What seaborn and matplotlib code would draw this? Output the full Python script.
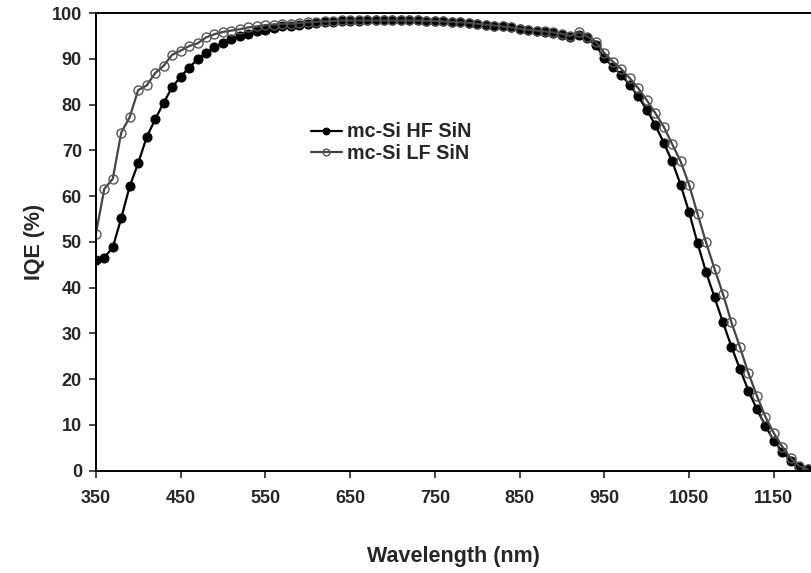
import numpy as np
import pandas as pd
import matplotlib
matplotlib.use("Agg")
import matplotlib.pyplot as plt
import seaborn as sns

# ------------------------------
#   IQE data
# ------------------------------
wavelength = [340, 350, 360, 370, 380, 390, 400, 410, 420, 430,
              440, 450, 460, 470, 480, 490, 500, 510, 520, 530,
              540, 550, 560, 570, 580, 590, 600, 610, 620, 630,
              640, 650, 660, 670, 680, 690, 700, 710, 720, 730,
              740, 750, 760, 770, 780, 790, 800, 810, 820, 830,
              840, 850, 860, 870, 880, 890, 900, 910, 920, 930,
              940, 950, 960, 970, 980, 990, 1000, 1010, 1020, 1030,
              1040, 1050, 1060, 1070, 1080, 1090, 1100, 1110, 1120, 1130,
              1140, 1150, 1160, 1170, 1180, 1190]

iqe_hf = [38.0, 46.1, 46.6, 48.8, 55.2, 62.2, 67.2, 72.9, 76.8, 80.4,
          83.8, 86.1, 88.1, 89.9, 91.4, 92.5, 93.4, 94.3, 95.0, 95.5,
          96.0, 96.4, 96.8, 97.1, 97.3, 97.5, 97.7, 97.9, 98.0, 98.1,
          98.2, 98.3, 98.3, 98.4, 98.4, 98.4, 98.4, 98.4, 98.4, 98.4,
          98.3, 98.3, 98.2, 98.1, 98.0, 97.9, 97.7, 97.5, 97.3, 97.1,
          96.9, 96.6, 96.3, 96.1, 95.9, 95.6, 95.3, 94.8, 95.3, 94.5,
          93.0, 90.2, 88.3, 86.5, 84.3, 81.8, 78.9, 75.6, 71.7, 67.6,
          62.5, 56.5, 49.7, 43.4, 37.9, 32.4, 27.1, 22.2, 17.5, 13.4,
          9.8, 6.5, 4.2, 2.2, 0.9, 0.3]

iqe_lf = [40.5, 51.7, 61.6, 63.8, 73.9, 77.3, 83.2, 84.2, 86.9, 88.5,
          90.9, 91.8, 92.8, 93.4, 94.7, 95.4, 95.9, 96.2, 96.5, 96.9,
          97.1, 97.4, 97.5, 97.7, 97.7, 97.9, 98.0, 98.1, 98.2, 98.3,
          98.4, 98.4, 98.4, 98.4, 98.4, 98.4, 98.4, 98.4, 98.4, 98.4,
          98.3, 98.3, 98.2, 98.1, 98.0, 97.9, 97.7, 97.5, 97.3, 97.1,
          96.9, 96.6, 96.4, 96.2, 96.0, 95.8, 95.5, 95.0, 95.9, 94.9,
          93.8, 91.3, 89.4, 87.8, 85.8, 83.6, 81.0, 78.2, 75.2, 71.4,
          67.6, 62.5, 56.1, 49.9, 44.1, 38.6, 32.4, 27.0, 21.3, 16.4,
          11.8, 8.2, 5.2, 2.7, 1.0, 0.3]

x_ticks = [350, 450, 550, 650, 750, 850, 950, 1050, 1150]
y_ticks = [0, 10, 20, 30, 40, 50, 60, 70, 80, 90, 100]

df = pd.DataFrame({"wavelength": wavelength, "HF": iqe_hf, "LF": iqe_lf})

sns.set_style("ticks")
plt.rcParams["font.family"] = ["Liberation Sans", "DejaVu Sans"]

fig = plt.figure(figsize=(8.12, 5.73), dpi=100)
ax = fig.add_axes([0.118, 0.1785, 0.882, 0.7985])

sns.lineplot(data=df, x="wavelength", y="HF", ax=ax, color="black",
             linewidth=1.6, marker="o", markersize=6.5,
             markerfacecolor="black", markeredgecolor="black",
             label="mc-Si HF SiN")
sns.lineplot(data=df, x="wavelength", y="LF", ax=ax, color="#444444",
             linewidth=1.6, marker="o", markersize=6.5,
             markerfacecolor="none", markeredgecolor="#555555",
             markeredgewidth=1.0, label="mc-Si LF SiN")

ax.set_xlim(350, 1195)
ax.set_ylim(0, 100)
ax.set_xticks(x_ticks)
ax.set_yticks(y_ticks)
ax.tick_params(axis="both", direction="out", length=5, width=1.2,
               labelsize=13)
ax.tick_params(axis="x", pad=9)
ax.tick_params(axis="y", pad=5)
for lbl in ax.get_xticklabels() + ax.get_yticklabels():
    lbl.set_fontweight("bold")

for side in ["left", "bottom", "top"]:
    ax.spines[side].set_linewidth(1.4)
    ax.spines[side].set_color("black")
ax.spines["right"].set_visible(False)

ax.set_xlabel("Wavelength (nm)", fontsize=15.5, fontweight="bold", labelpad=28)
ax.set_ylabel("IQE (%)", fontsize=15.5, fontweight="bold", labelpad=5)

leg = ax.legend(loc="upper left", bbox_to_anchor=(0.275, 0.80), frameon=False,
                prop={"size": 14.2, "weight": "bold"}, handlelength=1.6,
                handletextpad=0.25, labelspacing=0.12, markerscale=0.75)

plt.savefig("out.png", dpi=100)
